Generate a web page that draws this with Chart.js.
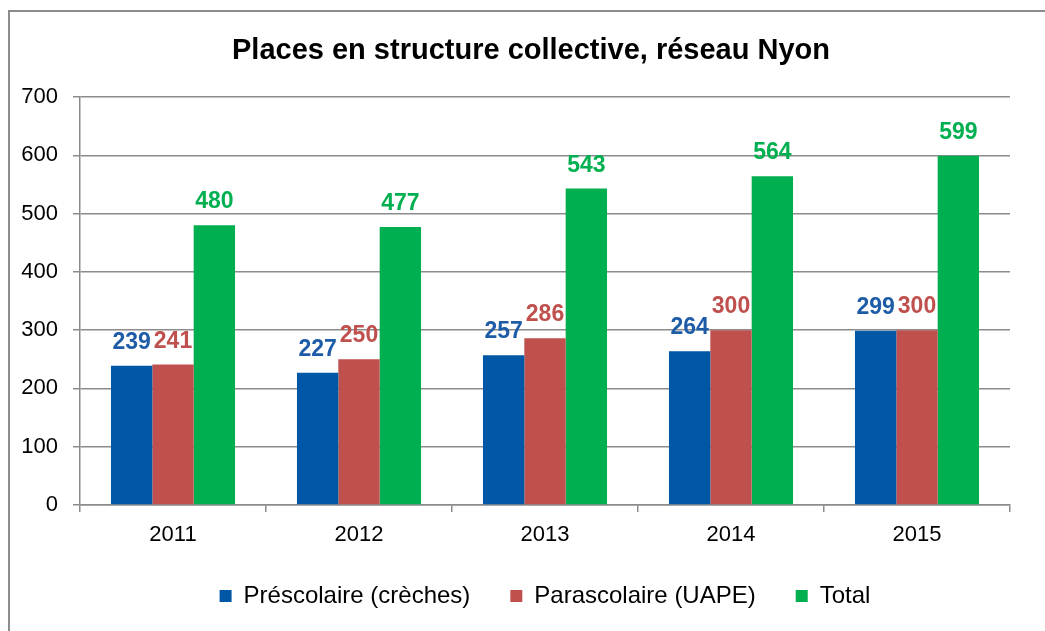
<!DOCTYPE html>
<html>
<head>
<meta charset="utf-8">
<script src="https://cdn.jsdelivr.net/npm/chart.js@4.4.1/dist/chart.umd.min.js"></script>
<style>
  html, body { margin: 0; padding: 0; background: #fff; overflow: hidden; }
  #wrap { position: relative; width: 1045px; height: 631px; }
  #frame { position: absolute; left: 8px; top: 10px; width: 1060px; height: 640px; border: 2px solid #8c8c8c; box-sizing: border-box; }
  canvas { position: absolute; left: 0; top: 0; }
</style>
</head>
<body>
<div id="wrap">
  <div id="frame"></div>
  <canvas id="chart" width="1045" height="631"></canvas>
</div>
<script>
// data
const years = ['2011', '2012', '2013', '2014', '2015'];
const prescolaire = [239, 227, 257, 264, 299];
const parascolaire = [241, 250, 286, 300, 300];
const total = [480, 477, 543, 564, 599];
const yTicks = [0, 100, 200, 300, 400, 500, 600, 700];
const titleText = 'Places en structure collective, réseau Nyon';

const FONT = '"Liberation Sans", Arial, sans-serif';
const gridColor = '#8c8c8c';

// title sits a bit off the plot centre in the original, so draw it here
const chartTitle = {
  id: 'chartTitle',
  afterDraw(chart) {
    const ctx = chart.ctx;
    ctx.save();
    ctx.font = 'bold 29px ' + FONT;
    ctx.fillStyle = '#000';
    ctx.textAlign = 'center';
    ctx.textBaseline = 'alphabetic';
    ctx.fillText(titleText, 531, 59);
    ctx.restore();
  }
};

// value labels above each bar
const barLabels = {
  id: 'barLabels',
  afterDatasetsDraw(chart) {
    const ctx = chart.ctx;
    ctx.save();
    ctx.font = 'bold 23px ' + FONT;
    ctx.textAlign = 'center';
    ctx.textBaseline = 'alphabetic';
    chart.data.datasets.forEach((ds, i) => {
      chart.getDatasetMeta(i).data.forEach((bar, j) => {
        ctx.fillStyle = ds.labelColor;
        ctx.fillText(String(ds.data[j]), bar.x, bar.y - 17);
      });
    });
    ctx.restore();
  }
};

new Chart(document.getElementById('chart'), {
  type: 'bar',
  data: {
    labels: years,
    datasets: [
      { label: 'Préscolaire (crèches)', data: prescolaire, backgroundColor: '#0057A6', labelColor: '#1F5CA8' },
      { label: 'Parascolaire (UAPE)', data: parascolaire, backgroundColor: '#C0504D', labelColor: '#C0504D' },
      { label: 'Total', data: total, backgroundColor: '#00B050', labelColor: '#00B050' }
    ]
  },
  options: {
    responsive: false,
    animation: false,
    layout: { padding: { left: 0, right: 35, top: 97, bottom: 13 } },
    datasets: { bar: { barPercentage: 1, categoryPercentage: 0.667 } },
    plugins: {
      title: { display: false },
      legend: {
        position: 'bottom',
        fullSize: false,
        labels: {
          color: '#000',
          font: { family: FONT, size: 24 },
          boxWidth: 12,
          boxHeight: 12,
          padding: 40
        }
      },
      tooltip: { enabled: false }
    },
    scales: {
      x: {
        grid: { offset: true, drawOnChartArea: false, drawTicks: true, tickLength: 7, color: gridColor, lineWidth: 1.5 },
        border: { color: gridColor, width: 1.5 },
        ticks: { color: '#000', font: { family: FONT, size: 22 }, padding: 10 },
        afterFit(scale) { scale.height = 39; }
      },
      y: {
        min: 0,
        max: 700,
        afterBuildTicks(scale) { scale.ticks = yTicks.map(v => ({ value: v })); },
        grid: { color: gridColor, lineWidth: 1.5, tickLength: 7 },
        border: { color: gridColor, width: 1.5 },
        ticks: { color: '#000', font: { family: FONT, size: 22 }, padding: 15 },
        afterFit(scale) { scale.width = 80; }
      }
    }
  },
  plugins: [barLabels, chartTitle]
});
</script>
</body>
</html>
